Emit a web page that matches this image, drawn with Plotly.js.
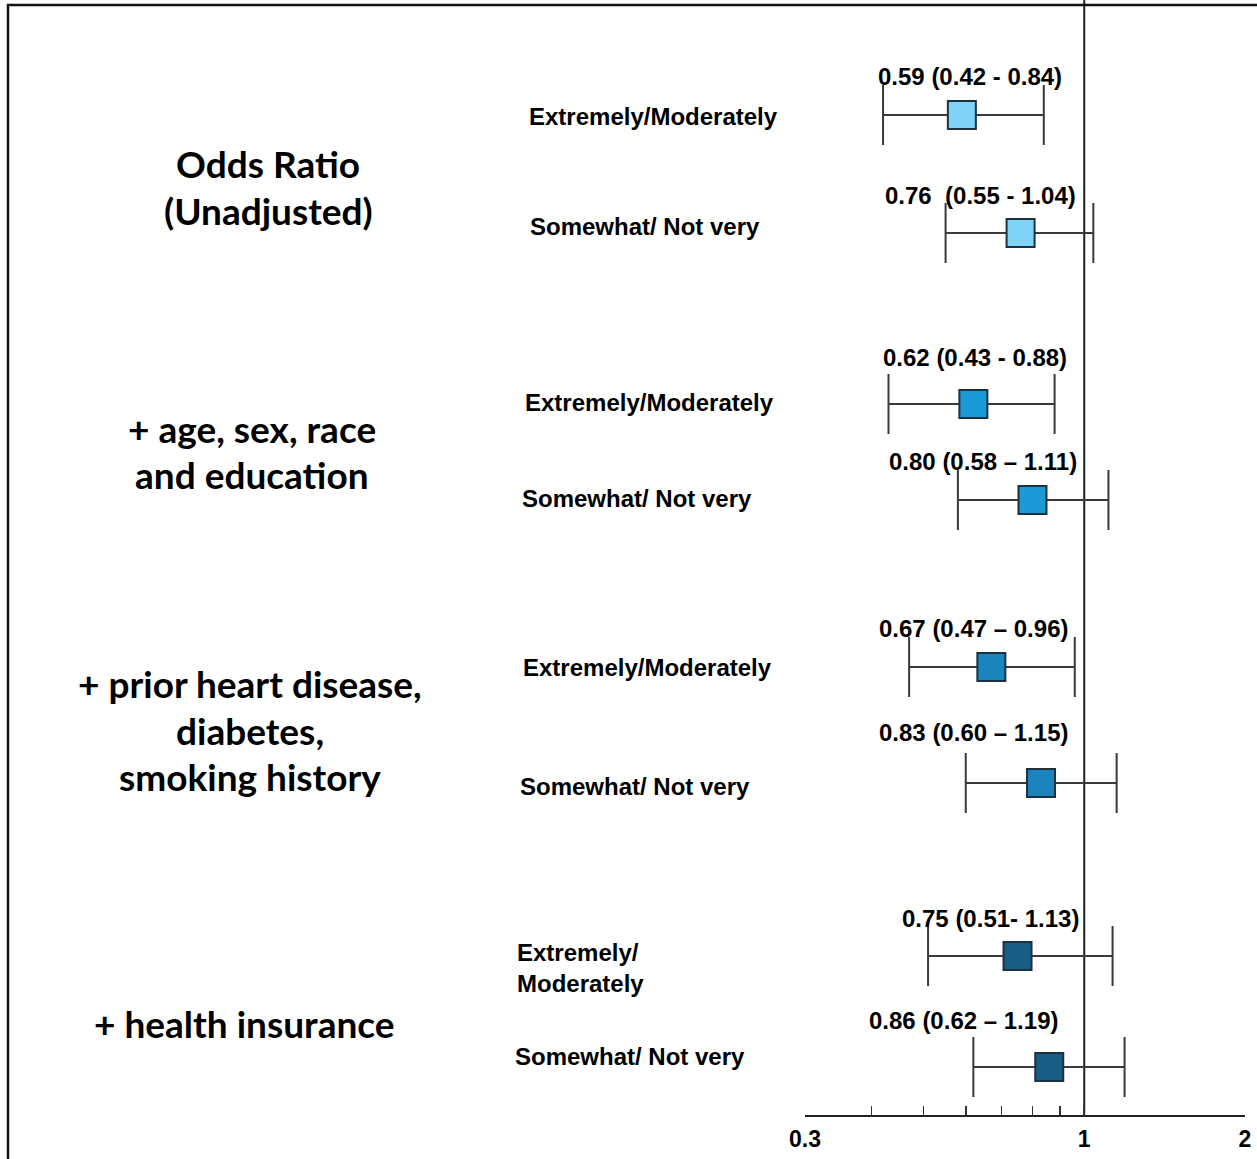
<!DOCTYPE html>
<html>
<head>
<meta charset="utf-8">
<script src="https://cdn.plot.ly/plotly-3.0.1.min.js"></script>
<style>html,body{margin:0;padding:0;background:#fff;}#chart{width:1257px;height:1159px;}</style>
</head>
<body>
<div id="chart"></div>
<script>
// ---- data ----
const groupLabels = [
  ["Odds Ratio", "(Unadjusted)"],
  ["+ age, sex, race", "and education"],
  ["+ prior heart disease,", "diabetes,", "smoking history"],
  ["+ health insurance"]
];
const categories = [
  "Extremely/Moderately", "Somewhat/ Not very",
  "Extremely/Moderately", "Somewhat/ Not very",
  "Extremely/Moderately", "Somewhat/ Not very",
  "Extremely/<br>Moderately", "Somewhat/ Not very"
];
const oddsRatio = [0.59, 0.76, 0.62, 0.80, 0.67, 0.83, 0.75, 0.86];
const ciLower   = [0.42, 0.55, 0.43, 0.58, 0.47, 0.60, 0.51, 0.62];
const ciUpper   = [0.84, 1.04, 0.88, 1.11, 0.96, 1.15, 1.13, 1.19];
const valueLabels = [
  "0.59 (0.42 - 0.84)", "0.76  (0.55 - 1.04)",
  "0.62 (0.43 - 0.88)", "0.80 (0.58 \u2013 1.11)",
  "0.67 (0.47 \u2013 0.96)", "0.83 (0.60 \u2013 1.15)",
  "0.75 (0.51- 1.13)", "0.86 (0.62 \u2013 1.19)"
];
const tickVals = [0.3, 0.4, 0.5, 0.6, 0.7, 0.8, 0.9, 1, 2];
const tickText = ["0.3", "", "", "", "", "", "", "1", "2"];

// ---- layout constants (positions / styles) ----
const W = 1257, H = 1159;
const ML = 805, MR = 12, MT = 0, MB = 44;
const PW = W - ML - MR, PH = H - MT - MB;
const rowY = [115, 233, 404, 500, 667, 783, 956, 1067];
const groupColors = ["#7fd3f6", "#1b9ad6", "#1a84bf", "#175d84"];
const rowGroup = [0, 0, 1, 1, 2, 2, 3, 3];
const catX = [527, 528, 523, 520, 521, 518, 515, 513];
const catY = [116, 226, 402, 498, 667, 786, 968, 1056];
const valX = [970, 980, 975, 983, 973, 973, 990, 963];
const valY = [76, 195, 357, 461, 628, 732, 918, 1020];
const groupX = [268, 252, 250, 244];
const groupY = [[163, 210], [428, 474], [683, 730, 776], [1023]];

const px = x => (x - ML) / PW;
const py = y => (H - MB - y) / PH;

const traces = [];
// reference line at OR = 1
traces.push({
  x: [1, 1], y: [0, PH], mode: "lines", type: "scatter",
  line: {color: "#222", width: 2}, hoverinfo: "skip", showlegend: false
});
for (let g = 0; g < 4; g++) {
  const idx = rowGroup.map((v, i) => v === g ? i : -1).filter(i => i >= 0);
  traces.push({
    type: "scatter", mode: "markers",
    x: idx.map(i => oddsRatio[i]),
    y: idx.map(i => rowY[i]),
    error_x: {
      type: "data", symmetric: false,
      array: idx.map(i => ciUpper[i] - oddsRatio[i]),
      arrayminus: idx.map(i => oddsRatio[i] - ciLower[i]),
      color: "#3a3a3a", thickness: 2, width: 30
    },
    marker: {symbol: "square", size: 28, color: groupColors[g],
             line: {color: "#1d3140", width: 2}},
    showlegend: false, hoverinfo: "x"
  });
}

const annotations = [];
const catFont = {family: "Liberation Sans, Arial, sans-serif", size: 24, color: "#000"};
const valFont = {family: "Liberation Sans, Arial, sans-serif", size: 24, color: "#000"};
categories.forEach((c, i) => {
  annotations.push({
    xref: "paper", yref: "y", x: px(catX[i]), y: catY[i],
    xanchor: "left", yanchor: "middle", align: "left", showarrow: false,
    text: "<b>" + c + "</b>", font: catFont
  });
});
valueLabels.forEach((t, i) => {
  annotations.push({
    xref: "paper", yref: "y", x: px(valX[i]), y: valY[i],
    xanchor: "center", yanchor: "middle", showarrow: false,
    text: "<b>" + t + "</b>", font: valFont
  });
});
groupLabels.forEach((lines, g) => {
  lines.forEach((t, k) => {
    annotations.push({
      xref: "paper", yref: "y", x: px(groupX[g]), y: groupY[g][k],
      xanchor: "center", yanchor: "middle", showarrow: false,
      text: "<b>" + t + "</b>",
      font: {family: "Lato, Open Sans, sans-serif", size: 37, color: "#000"}
    });
  });
});

const layout = {
  width: W, height: H,
  margin: {l: ML, r: MR, t: MT, b: MB, pad: 0},
  paper_bgcolor: "#fff", plot_bgcolor: "rgba(0,0,0,0)",
  showlegend: false,
  xaxis: {
    type: "log", range: [Math.log10(0.3), Math.log10(2)],
    showgrid: false, zeroline: false,
    showline: true, linecolor: "#222", linewidth: 2,
    ticks: "inside", ticklen: 9, tickwidth: 1.5, tickcolor: "#333",
    tickvals: tickVals, ticktext: tickText.map(t => t ? "<b>" + t + "</b>" : ""),
    tickfont: {family: "Liberation Sans, Arial, sans-serif", size: 23, color: "#000"},
    ticklabelstandoff: 2
  },
  yaxis: {range: [PH, 0], visible: false, showgrid: false, zeroline: false},
  annotations: annotations,
  shapes: [{
    type: "rect", xref: "paper", yref: "paper",
    x0: px(8), x1: px(W + 10), y0: py(H + 10), y1: py(5),
    line: {color: "#111", width: 2.5}, fillcolor: "rgba(0,0,0,0)", layer: "above"
  }]
};

Plotly.newPlot("chart", traces, layout, {displayModeBar: false, staticPlot: true});
</script>
</body>
</html>
